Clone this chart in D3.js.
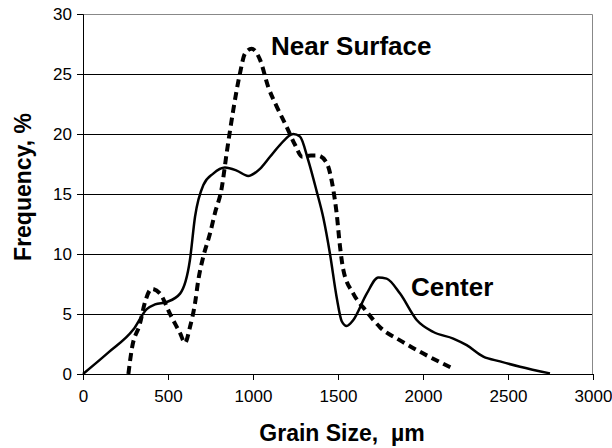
<!DOCTYPE html>
<html>
<head>
<meta charset="utf-8">
<script src="https://cdn.jsdelivr.net/npm/d3@7"></script>
<style>
    body { margin: 0; background: #fff; }
    text { font-family: Arial, "Liberation Sans", sans-serif; fill: #000; }
    .tick-label { font-size: 17px; }
    .axis-title { font-size: 23px; font-weight: bold; white-space: pre; }
    .series-label { font-size: 26px; font-weight: bold; }
</style>
</head>
<body>
<svg id="chart" width="612" height="448"></svg>
<script>
// Grain size (um) and frequency (%)
const centerSize = [0, 150, 296, 375, 424, 492, 571, 629, 659, 708, 766, 835, 904, 972, 1041, 1100, 1159, 1237, 1276, 1325,
    1375, 1414, 1453, 1492, 1522, 1551, 1590, 1669, 1737, 1786, 1865, 1963, 2061, 2178, 2257, 2355, 2453, 2571, 2747];
const centerFreq = [0, 1.8, 3.7, 5.4, 5.8, 6.0, 6.7, 9.5, 13.1, 15.75, 16.7, 17.2, 16.95, 16.5, 17.1, 18.1, 19.1, 20, 19.8, 17.8,
    15.2, 13.0, 10.0, 6.4, 4.4, 4.0, 4.5, 6.7, 8.05, 7.95, 6.7, 4.5, 3.5, 2.95, 2.4, 1.45, 1.05, 0.6, 0.05];

const surfaceSize = [267, 286, 335, 365, 404, 453, 512, 571, 600, 629, 659, 678, 708, 747, 776, 816, 845, 884, 924, 953,
    992, 1041, 1090, 1139, 1198, 1247, 1290, 1340, 1384, 1433, 1473, 1492, 1512, 1531, 1590, 1669, 1747, 1865, 2002, 2170];
const surfaceFreq = [0, 2, 4.2, 6.0, 7.1, 6.7, 5.0, 3.4, 2.6, 3.9, 5.9, 7.8, 9.8, 11.7, 13.4, 15.5, 18.4, 22, 25.1, 26.7,
    27.1, 26.2, 23.9, 22.3, 20.6, 19.1, 18.1, 18.2, 18.2, 17.6, 15.3, 13.4, 10.6, 8.7, 6.7, 5.2, 3.9, 2.8, 1.7, 0.5];

const xTicks = [0, 500, 1000, 1500, 2000, 2500, 3000];
const yTicks = [0, 5, 10, 15, 20, 25, 30];

const margin = {top: 14, right: 19, bottom: 74, left: 83};
const width = 612 - margin.left - margin.right;
const height = 448 - margin.top - margin.bottom;

const svg = d3.select('#chart');
const g = svg.append('g')
    .attr('transform', `translate(${margin.left},${margin.top})`);

const xScale = d3.scaleLinear().domain([0, 3000]).range([0, width]);
const yScale = d3.scaleLinear().domain([0, 30]).range([height, 0]);

// Horizontal grid lines
g.append('g').selectAll('line')
    .data(yTicks.filter(d => d > 0 && d < 30))
    .join('line')
        .attr('x1', 0)
        .attr('x2', width)
        .attr('y1', d => yScale(d) + 0.5)
        .attr('y2', d => yScale(d) + 0.5)
        .attr('stroke', '#000')
        .attr('stroke-width', 1);

// Plot border (top and right in grey)
g.append('path')
    .attr('d', `M0,0.5H${width - 0.5}V${height}`)
    .attr('fill', 'none')
    .attr('stroke', '#888');

// Axes
const xAxis = g.append('g')
    .attr('transform', `translate(0,${height})`)
    .call(d3.axisBottom(xScale).tickValues(xTicks).tickSize(6).tickPadding(10).tickFormat(d3.format('d')));
const yAxis = g.append('g')
    .call(d3.axisLeft(yScale).tickValues(yTicks).tickSize(6).tickPadding(5).tickFormat(d3.format('d')));

[xAxis, yAxis].forEach(a => {
    a.select('.domain').attr('stroke', '#000');
    a.selectAll('.tick line').attr('stroke', '#000');
    a.selectAll('.tick text')
        .attr('class', 'tick-label')
        .attr('font-family', null)
        .attr('font-size', null);
});

// Curves
const line = d3.line()
    .x(d => xScale(d[0]))
    .y(d => yScale(d[1]))
    .curve(d3.curveMonotoneX);

g.append('path')
    .datum(d3.zip(surfaceSize, surfaceFreq))
    .attr('d', line)
    .attr('fill', 'none')
    .attr('stroke', '#000')
    .attr('stroke-width', 4)
    .attr('stroke-dasharray', '8,5');

g.append('path')
    .datum(d3.zip(centerSize, centerFreq))
    .attr('d', line)
    .attr('fill', 'none')
    .attr('stroke', '#000')
    .attr('stroke-width', 2.5);

// Series labels
svg.append('text')
    .attr('class', 'series-label')
    .attr('x', 271)
    .attr('y', 55)
    .text('Near Surface');

svg.append('text')
    .attr('class', 'series-label')
    .attr('x', 411)
    .attr('y', 296)
    .text('Center');

// Axis titles
svg.append('text')
    .attr('class', 'axis-title')
    .attr('x', 342)
    .attr('y', 441)
    .attr('text-anchor', 'middle')
    .text('Grain Size,  \u00b5m');

svg.append('text')
    .attr('class', 'axis-title')
    .attr('transform', 'translate(31,187) rotate(-90)')
    .attr('text-anchor', 'middle')
    .text('Frequency, %');
</script>
</body>
</html>
